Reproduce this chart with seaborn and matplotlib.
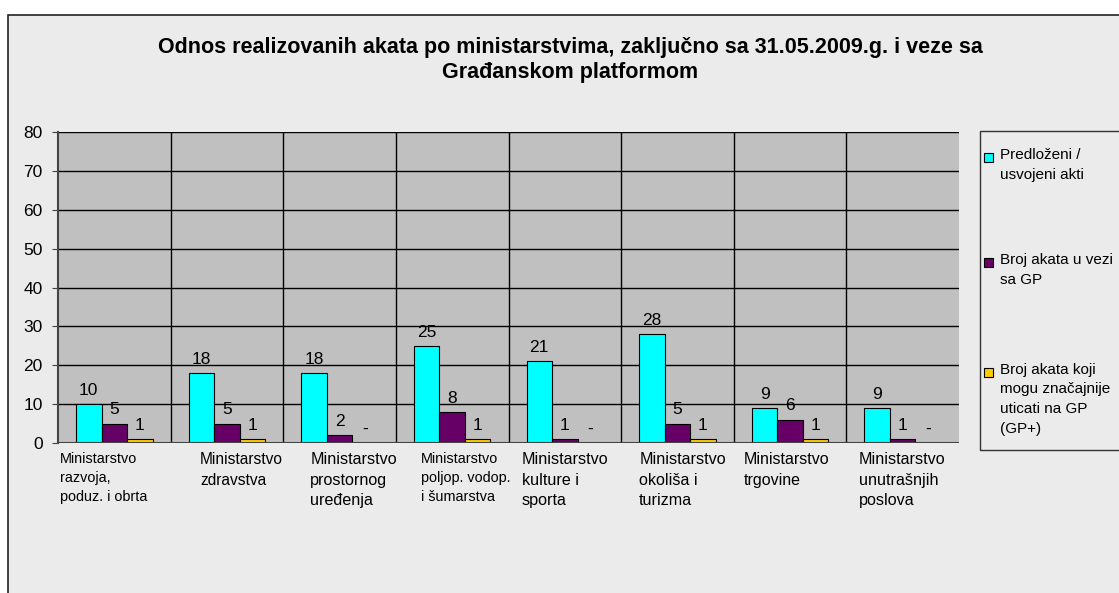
import matplotlib

matplotlib.use("Agg")
import matplotlib.pyplot as plt
import pandas as pd
import seaborn as sns
from matplotlib.patches import Rectangle

# ---------- data ----------
ministries = [
    "Ministarstvo\nrazvoja,\npoduz. i obrta",
    "Ministarstvo\nzdravstva",
    "Ministarstvo\nprostornog\nuređenja",
    "Ministarstvo\npoljop. vodop.\ni šumarstva",
    "Ministarstvo\nkulture i\nsporta",
    "Ministarstvo\nokoliša i\nturizma",
    "Ministarstvo\ntrgovine",
    "Ministarstvo\nunutrašnjih\nposlova",
]
series_names = [
    "Predloženi /\nusvojeni akti",
    "Broj akata u vezi\nsa GP",
    "Broj akata koji\nmogu značajnije\nuticati na GP\n(GP+)",
]
proposed = [10, 18, 18, 25, 21, 28, 9, 9]
related_gp = [5, 5, 2, 8, 1, 5, 6, 1]
gp_plus = [1, 1, 0, 1, 0, 1, 1, 0]
y_ticks = [0, 10, 20, 30, 40, 50, 60, 70, 80]

colors = ["#00FFFF", "#660066", "#FFCC00"]
# per-label style (Excel auto-fit made them slightly different)
label_sizes = [10.4, 11.2, 11.6, 10.4, 11.6, 11.6, 11.5, 11.6]
label_offsets = [0.02, 0.26, 0.24, 0.22, 0.12, 0.16, 0.09, 0.11]

df = pd.DataFrame({
    "ministry": ministries * 3,
    "series": [s for s in series_names for _ in ministries],
    "count": proposed + related_gp + gp_plus,
})

W, H = 1119, 593
plt.rcParams["font.family"] = ["Liberation Sans", "DejaVu Sans"]
fig = plt.figure(figsize=(W / 100, H / 100), dpi=100, facecolor="white")

# light chart background with thin border
fig.patches.append(Rectangle((8 / W, -0.1), 1.2, 1 - 15 / H + 0.1,
                             transform=fig.transFigure, facecolor="#ebebeb",
                             edgecolor="#222222", lw=1.2, zorder=-10))

ax = fig.add_axes([58 / W, 1 - 443 / H, (959 - 58) / W, (443 - 132) / H])
ax.set_facecolor("#C0C0C0")

sns.barplot(data=df, x="ministry", y="count", hue="series", order=ministries,
            hue_order=series_names, palette=colors, saturation=1, width=0.68,
            edgecolor="black", linewidth=0.8, ax=ax, legend=False)

for cont, vals in zip(ax.containers, [proposed, related_gp, gp_plus]):
    ax.bar_label(cont, labels=["-" if v == 0 else str(v) for v in vals],
                 padding=4.5, fontsize=12.5)

ax.set_ylim(0, 80)
ax.set_xlim(-0.5, len(ministries) - 0.5)
ax.set_yticks(y_ticks)
ax.tick_params(axis="y", labelsize=12.5, length=4, pad=7, color="#444444")
ax.set_axisbelow(True)
ax.yaxis.grid(True, color="black", lw=1)
for i in range(len(ministries) - 1):
    ax.axvline(i + 0.5, color="black", lw=1, zorder=0.5)
ax.set_xticks([])
ax.set_xlabel("")
ax.set_ylabel("")
for side in ["top", "right", "bottom"]:
    ax.spines[side].set_visible(False)
ax.spines["left"].set_color("#444444")
ax.spines["left"].set_linewidth(1.5)
ax.axhline(0, color="#444444", lw=1.5, zorder=3)

# category labels, left aligned under each group
for i, (lab, fs, off) in enumerate(zip(ministries, label_sizes, label_offsets)):
    ax.text(i - 0.5 + off, -0.03, lab, transform=ax.get_xaxis_transform(),
            ha="left", va="top", fontsize=fs, linespacing=1.45)

fig.text(570 / W, 1 - 60 / H,
         "Odnos realizovanih akata po ministarstvima, zaključno sa 31.05.2009.g. i veze sa\nGrađanskom platformom",
         ha="center", va="center", fontsize=15.5, fontweight="bold", linespacing=1.3)

# legend box
fig.patches.append(Rectangle((980 / W, 1 - 450 / H), 0.2, (450 - 131) / H,
                             transform=fig.transFigure, facecolor="none",
                             edgecolor="#333333", lw=1, zorder=2))
legend_y = [157, 262, 372]
for name, col, yy in zip(series_names, colors, legend_y):
    fig.patches.append(Rectangle((984 / W, 1 - (yy + 4.5) / H), 9 / W, 9 / H,
                                 transform=fig.transFigure, facecolor=col,
                                 edgecolor="black", lw=0.8, zorder=3))
    fig.text(1000 / W, 1 - (yy - 9) / H, name, ha="left", va="top",
             fontsize=11, linespacing=1.5)

fig.savefig("out.png", dpi=100, facecolor=fig.get_facecolor())
